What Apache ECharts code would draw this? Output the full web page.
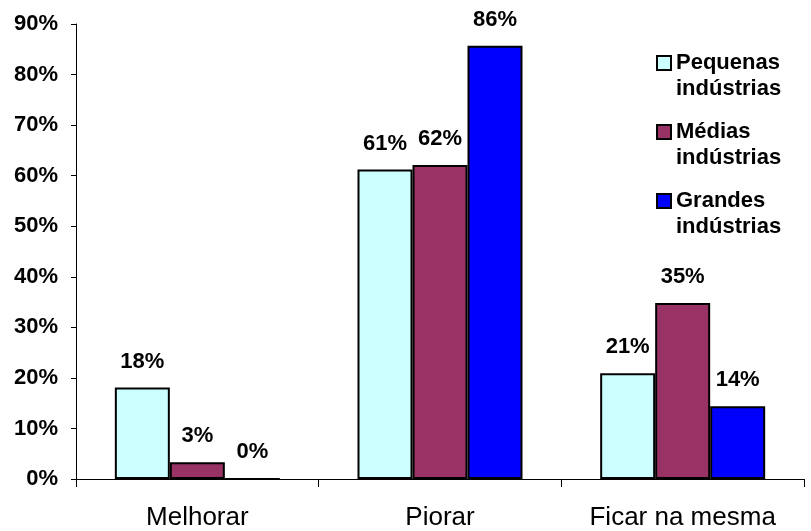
<!DOCTYPE html>
<html>
<head>
<meta charset="utf-8">
<script src="https://cdn.jsdelivr.net/npm/echarts@6/dist/echarts.min.js"></script>
<style>
  html, body { margin: 0; padding: 0; background: #fff; }
  #chart { width: 811px; height: 531px; }
</style>
</head>
<body>
<div id="chart"></div>
<script>
var categories = ['Melhorar', 'Piorar', 'Ficar na mesma'];
var seriesNames = ['Pequenas\nindústrias', 'Médias\nindústrias', 'Grandes\nindústrias'];
var pequenas = [18.1, 61.2, 20.9];
var medias = [3.3, 62.1, 34.8];
var grandes = [0, 85.7, 14.4];
var colors = ['#CCFFFF', '#993366', '#0000FF'];

var font = 'Arial, "Liberation Sans", sans-serif';

var labelCfg = {
  show: true,
  position: 'top',
  distance: 15,
  color: '#000',
  fontWeight: 'bold',
  fontSize: 22,
  fontFamily: font,
  formatter: function (p) { return Math.round(p.value) + '%'; }
};

function mkSeries(name, data, color) {
  return {
    name: name,
    type: 'bar',
    data: data,
    barWidth: 55,
    barGap: '0%',
    itemStyle: { color: color, borderColor: '#000', borderWidth: 2 },
    label: labelCfg
  };
}

var option = {
  animation: false,
  textStyle: { fontFamily: font },
  grid: { left: 76, right: 7, top: 24, bottom: 50 },
  legend: {
    orient: 'vertical',
    left: 656,
    top: 24,
    padding: 0,
    itemWidth: 14,
    itemHeight: 14,
    itemGap: -9,
    icon: 'rect',
    // leading blank line so the marker sits beside the first line of text
    formatter: function (name) { return '\n' + name; },
    textStyle: { fontSize: 22, fontWeight: 'bold', color: '#000', lineHeight: 26, fontFamily: font },
    data: seriesNames.map(function (n, i) {
      return { name: n, itemStyle: { color: colors[i], borderColor: '#000', borderWidth: 2 } };
    })
  },
  xAxis: {
    type: 'category',
    data: categories,
    axisLine: { lineStyle: { color: '#000', width: 1 } },
    axisTick: { show: true, length: 8, lineStyle: { color: '#000' } },
    axisLabel: { color: '#000', fontSize: 26, margin: 26, fontFamily: font }
  },
  yAxis: {
    type: 'value',
    min: 0,
    max: 90,
    interval: 10,
    splitLine: { show: false },
    axisLine: { show: true, lineStyle: { color: '#000', width: 1 } },
    axisTick: { show: true, length: 5, lineStyle: { color: '#000' } },
    axisLabel: { color: '#000', fontSize: 22, fontWeight: 'bold', margin: 18, fontFamily: font, formatter: '{value}%' }
  },
  series: [
    mkSeries(seriesNames[0], pequenas, colors[0]),
    mkSeries(seriesNames[1], medias, colors[1]),
    mkSeries(seriesNames[2], grandes, colors[2])
  ]
};

echarts.init(document.getElementById('chart')).setOption(option);
</script>
</body>
</html>
